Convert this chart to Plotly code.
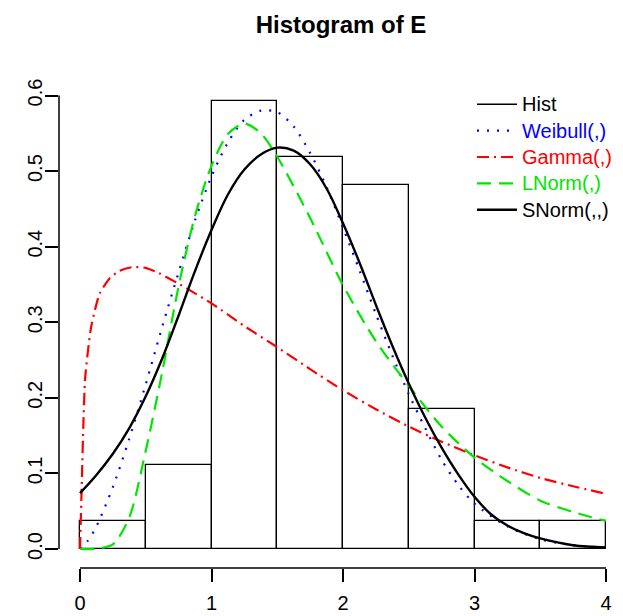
import plotly.graph_objects as go

# ---- data ----
breaks = [0, 0.5, 1.0, 1.5, 2.0, 2.5, 3.0, 3.5, 4.0]
hist_density = [0.037, 0.111, 0.593, 0.519, 0.481, 0.185, 0.037, 0.037]

weib_x = [0, 0.06, 0.125, 0.25, 0.375, 0.5, 0.625, 0.75, 0.875, 1.0, 1.125, 1.25, 1.375,
          1.5, 1.625, 1.75, 1.875, 2.0, 2.125, 2.25, 2.375, 2.5, 2.625, 2.75, 2.875,
          3.0, 3.25, 3.5, 3.75, 4.0]
weib_y = [0.0, 0.011, 0.030, 0.082, 0.146, 0.218, 0.294, 0.366, 0.435, 0.493, 0.538, 0.568, 0.580,
          0.578, 0.559, 0.524, 0.479, 0.425, 0.369, 0.311, 0.256, 0.205, 0.160, 0.118, 0.085,
          0.060, 0.030, 0.013, 0.005, 0.002]

gamma_x = [0, 0.015, 0.025, 0.04, 0.085, 0.15, 0.225, 0.3, 0.4, 0.5, 0.6, 0.75, 1.0, 1.25,
           1.5, 1.75, 2.0, 2.25, 2.5, 2.75, 3.0, 3.25, 3.5, 3.75, 4.0]
gamma_y = [0.0, 0.096, 0.162, 0.228, 0.294, 0.338, 0.358, 0.368, 0.373, 0.372, 0.365, 0.351, 0.325, 0.295,
           0.267, 0.238, 0.210, 0.185, 0.162, 0.142, 0.124, 0.108, 0.094, 0.083, 0.073]

lnorm_x = [0, 0.125, 0.25, 0.375, 0.5, 0.625, 0.75, 0.875, 1.0, 1.125, 1.25, 1.375, 1.5,
           1.75, 2.0, 2.25, 2.5, 2.75, 3.0, 3.25, 3.5, 3.75, 4.0]
lnorm_y = [0.0, 0.0005, 0.006, 0.042, 0.130, 0.234, 0.348, 0.441, 0.507, 0.549, 0.563, 0.550, 0.519,
           0.438, 0.349, 0.275, 0.216, 0.162, 0.121, 0.090, 0.064, 0.049, 0.037]

snorm_x = [0, 0.125, 0.25, 0.375, 0.5, 0.625, 0.75, 0.875, 1.0, 1.125, 1.25, 1.375, 1.5,
           1.625, 1.75, 1.875, 2.0, 2.125, 2.25, 2.375, 2.5, 2.625, 2.75, 2.875, 3.0,
           3.125, 3.25, 3.375, 3.5, 3.75, 4.0]
snorm_y = [0.074, 0.098, 0.126, 0.160, 0.202, 0.252, 0.309, 0.368, 0.422, 0.469, 0.502, 0.522, 0.531,
           0.527, 0.509, 0.477, 0.431, 0.379, 0.323, 0.269, 0.219, 0.174, 0.134, 0.099, 0.069,
           0.046, 0.031, 0.021, 0.014, 0.005, 0.002]

x_ticks = [0, 1, 2, 3, 4]
y_ticks = [0.0, 0.1, 0.2, 0.3, 0.4, 0.5, 0.6]
y_ticktext = ["0.0", "0.1", "0.2", "0.3", "0.4", "0.5", "0.6"]

legend_names = ["Hist", "Weibull(,)", "Gamma(,)", "LNorm(,)", "SNorm(,,)"]
legend_colors = ["black", "blue", "red", "#00e600", "black"]

# ---- figure ----
FONT = "Liberation Sans, Arial, Helvetica, sans-serif"
centers = [(breaks[i] + breaks[i + 1]) / 2 for i in range(len(hist_density))]
widths = [breaks[i + 1] - breaks[i] for i in range(len(hist_density))]


def lname(i):
    return f"<span style='color:{legend_colors[i]};font-size:20px'>{legend_names[i]}</span>"


fig = go.Figure()
fig.add_trace(go.Bar(x=centers, y=hist_density, width=widths,
                     marker=dict(color="white", line=dict(color="black", width=1.3)),
                     showlegend=False, hoverinfo="skip"))
# legend entry for the histogram (line symbol as in the original)
fig.add_trace(go.Scatter(x=[None], y=[None], mode="lines", name=lname(0),
                         line=dict(color="black", width=1.5)))
fig.add_trace(go.Scatter(x=weib_x, y=weib_y, mode="lines", name=lname(1),
                         line=dict(color="blue", width=2.2, dash="2px,8px", shape="spline", smoothing=0.8)))
fig.add_trace(go.Scatter(x=gamma_x, y=gamma_y, mode="lines", name=lname(2),
                         line=dict(color="red", width=2.2, dash="12px,5px,2px,5px", shape="spline", smoothing=0.6)))
fig.add_trace(go.Scatter(x=lnorm_x, y=lnorm_y, mode="lines", name=lname(3),
                         line=dict(color=legend_colors[3], width=2.2, dash="14px,8px", shape="spline", smoothing=0.8)))
fig.add_trace(go.Scatter(x=snorm_x, y=snorm_y, mode="lines", name=lname(4),
                         line=dict(color="black", width=2.4, shape="spline", smoothing=1.0)))

# The page body keeps its default 8px margin, so the figure is laid out
# 8px smaller and all pixel targets are expressed relative to that offset.
OFF = 8
W, H = 623 - OFF, 616 - OFF
ml, mr, mt, mb = 59 - OFF, 0, 77 - OFF, 48
PW, PH = W - ml - mr, H - mt - mb
px_per_x = 131.5
px_per_y = 755.8
x_lo = -(80 - 59) / px_per_x
x_hi = x_lo + PW / px_per_x
y_lo = -(568 - 549) / px_per_y
y_hi = y_lo + PH / px_per_y

fig.update_layout(
    width=W, height=H,
    margin=dict(l=ml, r=mr, t=mt, b=mb, autoexpand=False),
    paper_bgcolor="white", plot_bgcolor="white",
    font=dict(family=FONT, size=20, color="black"),
    title=dict(text="<b>Histogram of E</b>", x=0.5, xanchor="center", xref="paper",
               y=1 - 17 / H, yanchor="middle", font=dict(size=24, family=FONT)),
    xaxis=dict(range=[x_lo, x_hi], showgrid=False, zeroline=False, showline=False,
               automargin=False,
               tickvals=x_ticks, ticks="outside", ticklen=13, tickwidth=1.5, tickcolor="black",
               tickfont=dict(size=20), ticklabelstandoff=4),
    yaxis=dict(range=[y_lo, y_hi], showgrid=False, zeroline=False, showline=False,
               automargin=False,
               tickvals=y_ticks, ticktext=y_ticktext, tickangle=-90,
               ticks="outside", ticklen=13, tickwidth=1.5, tickcolor="black",
               tickfont=dict(size=20), ticklabelstandoff=-5),
    legend=dict(x=(464 - ml) / PW, xanchor="left", y=1 - (78 - mt) / PH, yanchor="top",
                bgcolor="rgba(0,0,0,0)", borderwidth=0, font=dict(size=18),
                itemwidth=40, tracegroupgap=0),
    bargap=0,
)

# axis lines spanning only the tick range (R style)
fig.add_shape(type="line", xref="x", yref="paper", x0=x_ticks[0], x1=x_ticks[-1], y0=0, y1=0,
              line=dict(color="black", width=1.5))
fig.add_shape(type="line", xref="paper", yref="y", x0=0, x1=0, y0=y_ticks[0], y1=y_ticks[-1],
              line=dict(color="black", width=1.5))

fig.write_html("out.html")
